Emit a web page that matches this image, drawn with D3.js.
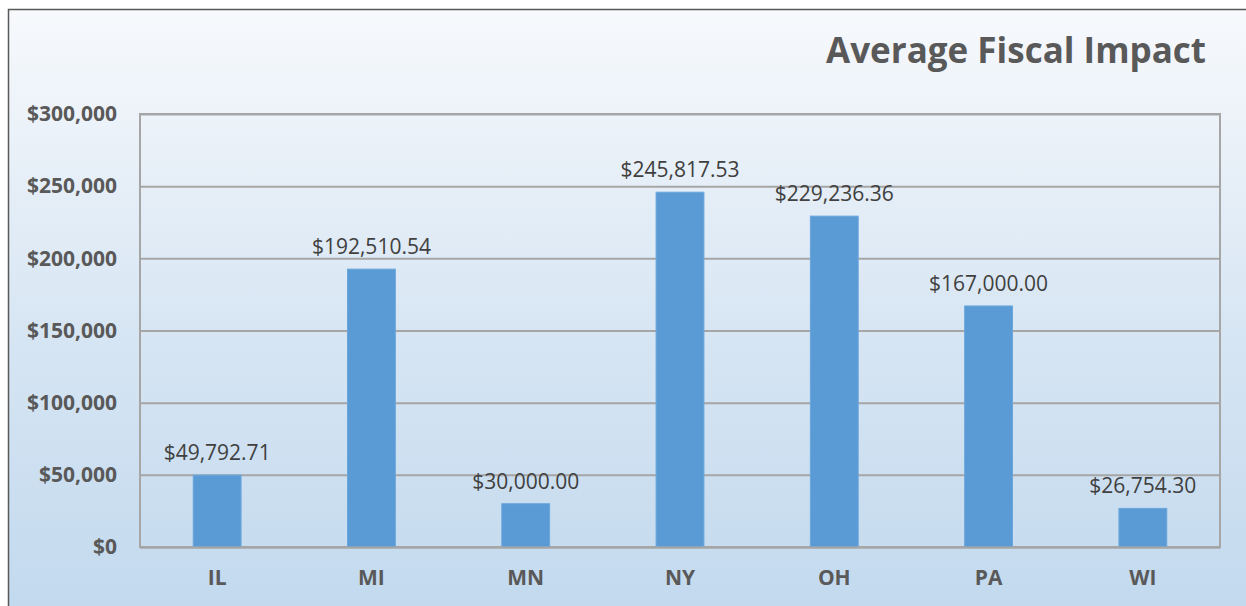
<!DOCTYPE html>
<html>
<head>
<meta charset="utf-8">
<script src="https://d3js.org/d3.v7.min.js"></script>
<style>
  body { margin: 0; background: #fff; }
  svg { display: block; font-family: "Open Sans", sans-serif; }
</style>
</head>
<body>
<svg></svg>
<script>
var states = ['IL', 'MI', 'MN', 'NY', 'OH', 'PA', 'WI'];
var impact = [49792.71, 192510.54, 30000.00, 245817.53, 229236.36, 167000.00, 26754.30];
var yTicks = [0, 50000, 100000, 150000, 200000, 250000, 300000];

var width = 1246, height = 606;
var plot = { left: 140, right: 1220, top: 114, bottom: 547 };

var svg = d3.select("svg")
  .attr("width", width)
  .attr("height", height);

// background gradient like the Excel chart area
var grad = svg.append("defs").append("linearGradient")
  .attr("id", "bg")
  .attr("x1", 0).attr("y1", 0).attr("x2", 0).attr("y2", 1);
grad.append("stop").attr("offset", "0%").attr("stop-color", "#f7f9fc");
grad.append("stop").attr("offset", "55%").attr("stop-color", "#d6e5f3");
grad.append("stop").attr("offset", "100%").attr("stop-color", "#c2d9ee");

svg.append("rect")
  .attr("x", 8.5).attr("y", 9.5)
  .attr("width", width).attr("height", height)
  .attr("fill", "url(#bg)")
  .attr("stroke", "#595959")
  .attr("stroke-width", 1.5);

var x = d3.scaleBand()
  .domain(states)
  .range([plot.left, plot.right])
  .paddingInner(0.69)
  .paddingOuter(0.345);

var y = d3.scaleLinear()
  .domain([0, 300000])
  .range([plot.bottom, plot.top]);

// gridlines + y labels
var yAxis = d3.axisLeft(y)
  .tickValues(yTicks)
  .tickSize(-(plot.right - plot.left))
  .tickPadding(23)
  .tickFormat(d => "$" + d3.format(",")(d));

var gy = svg.append("g")
  .attr("transform", "translate(" + plot.left + ",0)")
  .call(yAxis);
gy.select(".domain").remove();
gy.selectAll(".tick line")
  .attr("stroke", "#a6a6a6")
  .attr("stroke-width", 2);
gy.selectAll(".tick text")
  .attr("fill", "#595959")
  .attr("font-size", "21px")
  .attr("font-weight", "bold")
  .attr("font-family", "Open Sans, sans-serif");

// plot area border
svg.append("rect")
  .attr("x", plot.left).attr("y", plot.top)
  .attr("width", plot.right - plot.left)
  .attr("height", plot.bottom - plot.top)
  .attr("fill", "none")
  .attr("stroke", "#a6a6a6")
  .attr("stroke-width", 2);

// bars
svg.selectAll("rect.bar")
  .data(impact)
  .enter()
  .append("rect")
  .attr("class", "bar")
  .attr("x", (d, i) => x(states[i]))
  .attr("width", x.bandwidth())
  .attr("y", d => y(d))
  .attr("height", d => y(0) - y(d))
  .attr("fill", "#5b9bd5")
  .attr("stroke", "#6aa6dc")
  .attr("stroke-width", 1);

// value labels
var money = d3.format(",.2f");
svg.selectAll("text.val")
  .data(impact)
  .enter()
  .append("text")
  .attr("class", "val")
  .attr("x", (d, i) => x(states[i]) + x.bandwidth() / 2)
  .attr("y", d => y(d) - 15)
  .attr("text-anchor", "middle")
  .attr("fill", "#404040")
  .attr("font-size", "21px")
  .text(d => "$" + money(d));

// x axis labels
var xAxis = d3.axisBottom(x).tickSize(0).tickPadding(23);
var gx = svg.append("g")
  .attr("transform", "translate(0," + plot.bottom + ")")
  .call(xAxis);
gx.select(".domain")
  .attr("stroke", "#a6a6a6")
  .attr("stroke-width", 2);
gx.selectAll(".tick text")
  .attr("fill", "#595959")
  .attr("font-size", "21px")
  .attr("font-weight", "bold")
  .attr("font-family", "Open Sans, sans-serif");

// title
svg.append("text")
  .attr("x", 1206)
  .attr("y", 63)
  .attr("text-anchor", "end")
  .attr("fill", "#595959")
  .attr("font-size", "35px")
  .attr("font-weight", "bold")
  .text("Average Fiscal Impact");
</script>
</body>
</html>
